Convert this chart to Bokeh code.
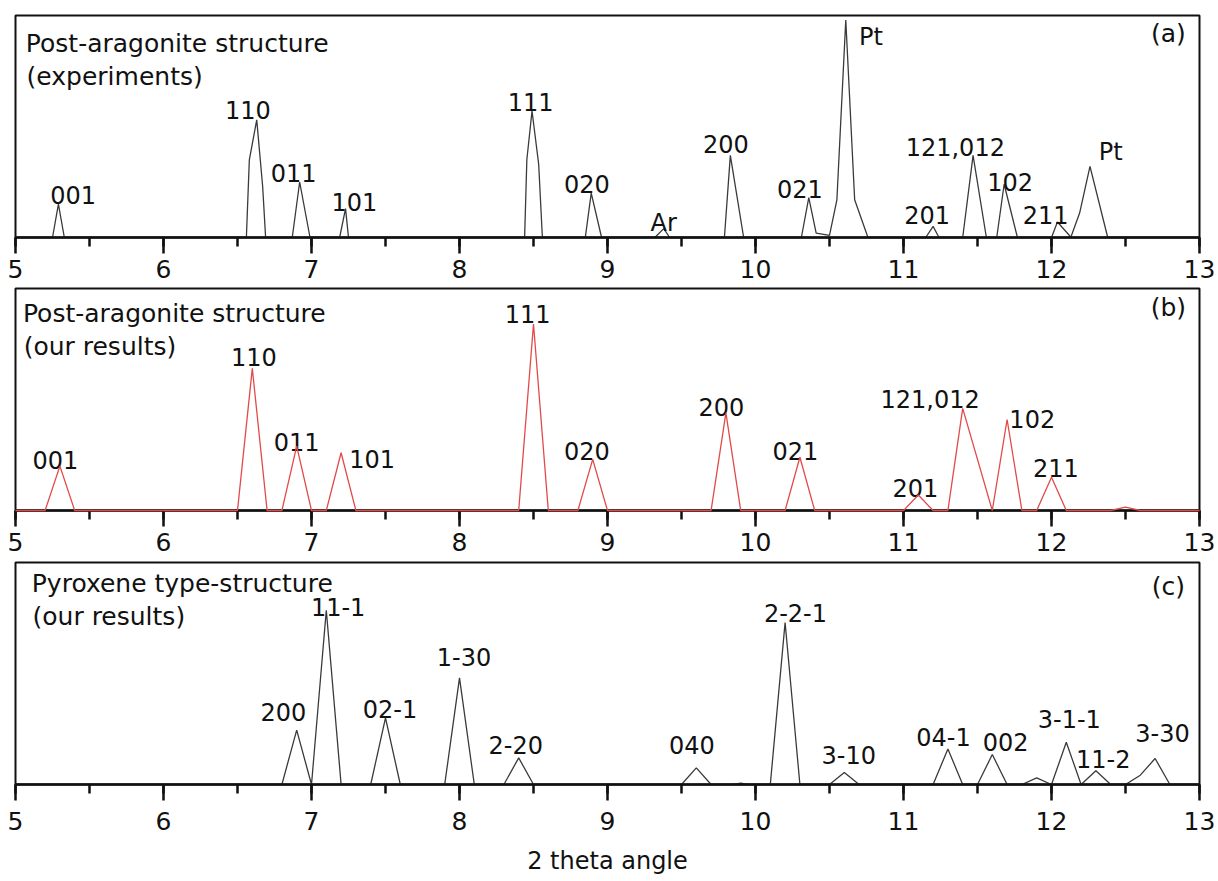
from bokeh.plotting import figure
from bokeh.layouts import column
from bokeh.models import Range1d, SingleIntervalTicker, ColumnDataSource
from bokeh.core.properties import value
from bokeh.embed import file_html
from bokeh.resources import INLINE

FONT = "DejaVu Sans"

# ---------------- data (2 theta, relative intensity 0-100) ----------------
a_x = [5.0, 5.25, 5.29, 5.33, 6.56, 6.58, 6.63, 6.67, 6.69, 6.87, 6.92, 6.99,
       7.19, 7.23, 7.25, 8.44, 8.455, 8.49, 8.535, 8.56, 8.85, 8.89, 8.96,
       9.32, 9.38, 9.42, 9.79, 9.83, 9.92, 10.31, 10.36, 10.41, 10.50, 10.55,
       10.61, 10.67, 10.76, 11.15, 11.20, 11.24, 11.40, 11.47, 11.56, 11.63,
       11.68, 11.77, 12.00, 12.04, 12.12, 12.13, 12.19, 12.26, 12.38, 13.0]
a_y = [0, 0, 15, 0, 0, 35, 53, 23, 0, 0, 25, 0,
       0, 13, 0, 0, 35, 57, 33, 0, 0, 20, 0,
       0, 4, 0, 0, 37, 0, 0, 18, 2, 1, 17,
       98, 17, 0, 0, 5, 0, 0, 37, 0, 0,
       24, 0, 0, 7, 1, 0, 11, 32, 0, 0]

b_x = [5.0, 5.2, 5.3, 5.4, 6.5, 6.6, 6.7, 6.8, 6.9, 7.0, 7.1, 7.2, 7.3,
       8.4, 8.5, 8.6, 8.8, 8.9, 9.0, 9.7, 9.8, 9.9, 10.2, 10.3, 10.4,
       11.0, 11.1, 11.2, 11.3, 11.4, 11.6, 11.7, 11.8, 11.9, 12.0, 12.1,
       12.4, 12.5, 12.6, 13.0]
b_y = [0, 0, 20, 0, 0, 64, 0, 0, 29, 0, 0, 26, 0,
       0, 84, 0, 0, 23, 0, 0, 44, 0, 0, 24, 0,
       0, 7, 0, 0, 46, 0, 41, 0, 0, 15, 0,
       0, 1.5, 0, 0]

c_x = [5.0, 6.8, 6.9, 7.0, 7.1, 7.2, 7.4, 7.5, 7.6, 7.9, 8.0, 8.1, 8.3, 8.4,
       8.5, 9.5, 9.6, 9.7, 9.85, 9.9, 9.95, 10.1, 10.2, 10.3, 10.5, 10.6,
       10.7, 11.2, 11.3, 11.4, 11.5, 11.6, 11.7, 11.8, 11.9, 12.0, 12.1,
       12.2, 12.3, 12.4, 12.5, 12.6, 12.7, 12.8, 13.0]
c_y = [0, 0, 24.5, 0, 78.5, 0, 0, 30, 0, 0, 48, 0, 0, 12,
       0, 0, 7.5, 0, 0, 0.6, 0, 0, 73, 0, 0, 5.4,
       0, 0, 16, 0, 0, 13.5, 0, 0, 3, 0, 19,
       0, 6.2, 0, 0, 4.2, 11.7, 0, 0]

a_lbl = ["001", "110", "011", "101", "111", "020", "Ar", "200", "021", "Pt",
         "201", "121,012", "102", "211", "Pt"]
a_lbl_x = [5.39, 6.57, 6.88, 7.29, 8.48, 8.86, 9.38, 9.80, 10.30, 10.78,
           11.16, 11.35, 11.72, 11.96, 12.40]
a_lbl_y = [19, 57.3, 29, 16, 61, 24, 6.7, 42, 22, 90.5, 10, 40.6, 25, 10, 38.6]

b_lbl = ["001", "110", "011", "101", "111", "020", "200", "021", "201",
         "121,012", "102", "211"]
b_lbl_x = [5.27, 6.61, 6.90, 7.41, 8.46, 8.86, 9.77, 10.27, 11.08, 11.18,
           11.87, 12.03]
b_lbl_y = [22.6, 69, 31, 23, 88.7, 27, 46.6, 27, 10, 50.4, 41, 19]

c_lbl = ["200", "11-1", "02-1", "1-30", "2-20", "040", "2-2-1", "3-10",
         "04-1", "002", "3-1-1", "11-2", "3-30"]
c_lbl_x = [6.81, 7.18, 7.53, 8.03, 8.38, 9.57, 10.27, 10.63, 11.27, 11.69,
           12.12, 12.35, 12.75]
c_lbl_y = [32.7, 80, 34.2, 57.5, 18, 17.7, 77.3, 13.5, 21.5, 19.2, 29.7,
           11.7, 23.3]

titles = [["Post-aragonite structure", "(experiments)"],
          ["Post-aragonite structure", "(our results)"],
          ["Pyroxene type-structure", "(our results)"]]
title_x = [5.07, 5.05, 5.11]
title_y = [[87.3, 72.3], [88.7, 73.7], [90.5, 75.5]]
panel_tags = ["(a)", "(b)", "(c)"]
panel_tag_y = [91.8, 91.4, 89.0]
x_title = "2 theta angle"

FS = "24px"
FS_TITLE = "25px"


def make_panel(xs, ys, color, lw, lbl, lx, ly, ti, tx, ty, tag, tagy,
               height, top, bottom, standoff, xlabel=None, line_on_top=False):
    p = figure(width=1218, height=height, output_backend="svg",
               toolbar_location=None, x_range=Range1d(5, 13),
               y_range=Range1d(0, 100),
               min_border_left=15, min_border_right=19,
               min_border_top=top, min_border_bottom=bottom)
    p.grid.visible = False
    p.yaxis.visible = False
    p.outline_line_color = "#111111"
    p.outline_line_width = 2
    p.background_fill_color = "white"
    p.border_fill_color = "white"

    r = p.line(xs, ys, line_color=color, line_width=lw)
    if line_on_top:
        r.level = "overlay"

    src = ColumnDataSource(dict(x=lx, y=ly, t=lbl))
    p.text(x="x", y="y", text="t", source=src, text_align="center",
           text_baseline="middle", text_font=value(FONT),
           text_font_size=FS, text_color="#111111")
    p.text(x=[tx, tx + 0.005], y=ty, text=ti, text_align="left",
           text_baseline="middle", text_font=value(FONT),
           text_font_size=FS_TITLE, text_color="#111111")
    p.text(x=[12.79], y=[tagy], text=[tag], text_align="center",
           text_baseline="middle", text_font=value(FONT),
           text_font_size=FS_TITLE, text_color="#111111")

    ax = p.xaxis[0]
    ax.ticker = SingleIntervalTicker(interval=1, num_minor_ticks=2)
    ax.axis_line_width = 2.5
    ax.axis_line_color = "#111111"
    ax.major_tick_line_width = 2.5
    ax.minor_tick_line_width = 2.5
    ax.major_tick_line_color = "#111111"
    ax.minor_tick_line_color = "#111111"
    ax.major_tick_in = 0
    ax.major_tick_out = 16
    ax.minor_tick_in = 0
    ax.minor_tick_out = 9
    ax.major_label_standoff = standoff
    ax.major_label_text_font = FONT
    ax.major_label_text_font_size = "25px"
    ax.major_label_text_color = "#111111"
    if xlabel:
        ax.axis_label = xlabel
        ax.axis_label_text_font = FONT
        ax.axis_label_text_font_style = "normal"
        ax.axis_label_text_font_size = "24px"
        ax.axis_label_text_color = "#111111"
        ax.axis_label_standoff = 14
    return p


pa = make_panel(a_x, a_y, "#3a3a3a", 1.3, a_lbl, a_lbl_x, a_lbl_y,
                titles[0], title_x[0], title_y[0], panel_tags[0],
                panel_tag_y[0], 286, 15, 49, 6)
pb = make_panel(b_x, b_y, "#e24a4a", 1.3, b_lbl, b_lbl_x, b_lbl_y,
                titles[1], title_x[1], title_y[1], panel_tags[1],
                panel_tag_y[1], 274, 2, 50, 6, line_on_top=True)
pc = make_panel(c_x, c_y, "#3a3a3a", 1.3, c_lbl, c_lbl_x, c_lbl_y,
                titles[2], title_x[2], title_y[2], panel_tags[2],
                panel_tag_y[2], 321, 2, 97, 11, xlabel=x_title)

layout = column(pa, pb, pc, spacing=0)
open("out.html", "w").write(file_html(layout, INLINE))
